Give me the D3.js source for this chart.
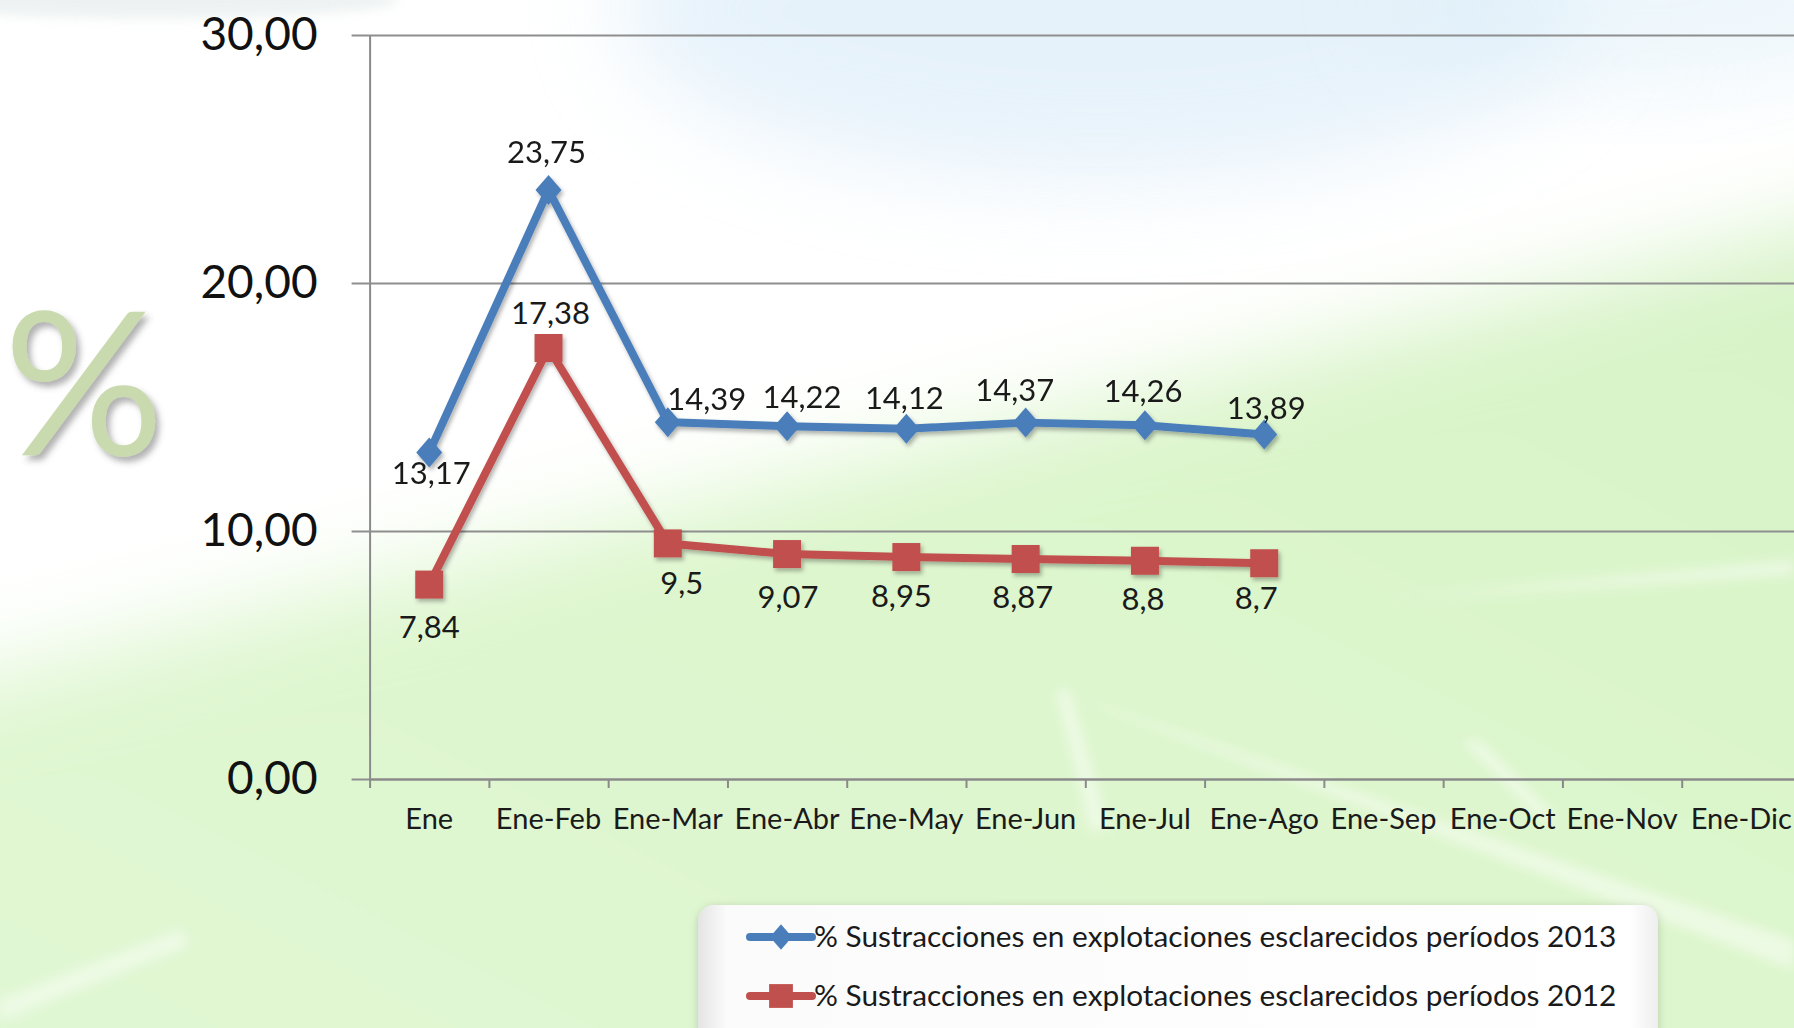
<!DOCTYPE html>
<html>
<head>
<meta charset="utf-8">
<script src="https://cdn.jsdelivr.net/npm/d3@7"></script>
<style>
  html, body { margin: 0; padding: 0; background: #fff; overflow: hidden; }
  svg { display: block; font-family: Lato, "Open Sans", sans-serif; }
</style>
</head>
<body>
<div id="chart"></div>
<script>
const months = ['Ene', 'Ene-Feb', 'Ene-Mar', 'Ene-Abr', 'Ene-May', 'Ene-Jun',
                'Ene-Jul', 'Ene-Ago', 'Ene-Sep', 'Ene-Oct', 'Ene-Nov', 'Ene-Dic'];
const values2013 = [13.17, 23.75, 14.39, 14.22, 14.12, 14.37, 14.26, 13.89];
const values2012 = [7.84, 17.38, 9.5, 9.07, 8.95, 8.87, 8.8, 8.7];
const yTicks = [0, 10, 20, 30];
const seriesNames = [
  '% Sustracciones en explotaciones esclarecidos períodos 2013',
  '% Sustracciones en explotaciones esclarecidos períodos 2012'
];
// label nudges (excel places them by hand)
const labelNudge2013 = [[2, 21], [-2, -38], [39, -23], [15, -29], [-2, -31], [-11, -32], [-2, -34], [2, -26]];
const labelNudge2012 = [[0, 43], [2, -35], [14, 40], [1, 43], [-5, 39], [-3, 38], [-2, 38], [-8, 35]];

const w = 1794, h = 1028;
const plotLeft = 369.6, plotRight = 1801, plotTop = 35, plotBottom = 779;

const svg = d3.select('#chart').append('svg').attr('width', w).attr('height', h);
const defs = svg.append('defs');

// ---- background ----
const gGreen = defs.append('linearGradient').attr('id', 'green').attr('x1', 0).attr('y1', 1).attr('x2', 1).attr('y2', 0);
gGreen.append('stop').attr('offset', 0).attr('stop-color', '#e2f8d6');
gGreen.append('stop').attr('offset', 0.6).attr('stop-color', '#ddf6cd');
gGreen.append('stop').attr('offset', 1).attr('stop-color', '#d6f2c6');
defs.append('filter').attr('id', 'blur60').attr('x', -0.3).attr('y', -0.3).attr('width', 1.6).attr('height', 1.6)
  .append('feGaussianBlur').attr('stdDeviation', 45);
defs.append('filter').attr('id', 'blur8').attr('x', -0.5).attr('y', -0.5).attr('width', 2).attr('height', 2)
  .append('feGaussianBlur').attr('stdDeviation', 6);
const sh = defs.append('filter').attr('id', 'shadow').attr('x', -0.2).attr('y', -0.2).attr('width', 1.4).attr('height', 1.4);
sh.append('feDropShadow').attr('dx', 2).attr('dy', 3).attr('stdDeviation', 2).attr('flood-color', '#000').attr('flood-opacity', 0.3);
const shBig = defs.append('filter').attr('id', 'pctShadow').attr('x', -0.2).attr('y', -0.2).attr('width', 1.4).attr('height', 1.4);
shBig.append('feDropShadow').attr('dx', 4).attr('dy', 5).attr('stdDeviation', 3).attr('flood-color', '#555').attr('flood-opacity', 0.45);
const shLeg = defs.append('filter').attr('id', 'legShadow').attr('x', -0.1).attr('y', -0.2).attr('width', 1.2).attr('height', 1.4);
shLeg.append('feDropShadow').attr('dx', 0).attr('dy', 2).attr('stdDeviation', 4).attr('flood-color', '#000').attr('flood-opacity', 0.18);
const legGrad = defs.append('linearGradient').attr('id', 'legGrad').attr('x1', 0).attr('x2', 1).attr('y1', 0).attr('y2', 0);
legGrad.append('stop').attr('offset', 0).attr('stop-color', '#e4e4e4');
legGrad.append('stop').attr('offset', 0.03).attr('stop-color', '#fbfbfb');
legGrad.append('stop').attr('offset', 0.97).attr('stop-color', '#ffffff');
legGrad.append('stop').attr('offset', 1).attr('stop-color', '#eeeeee');

const bg = svg.append('g');
bg.append('rect').attr('width', w).attr('height', h).attr('fill', '#ffffff');
// blue sky haze at top
bg.append('ellipse').attr('cx', 1100).attr('cy', 10).attr('rx', 480).attr('ry', 170)
  .attr('fill', '#d7eaf8').attr('opacity', 0.6).attr('filter', 'url(#blur60)');
bg.append('ellipse').attr('cx', 1650).attr('cy', 0).attr('rx', 260).attr('ry', 90)
  .attr('fill', '#dceef8').attr('opacity', 0.5).attr('filter', 'url(#blur60)');
bg.append('ellipse').attr('cx', 150).attr('cy', 0).attr('rx', 250).attr('ry', 18)
  .attr('fill', '#e2e9e9').attr('opacity', 0.6).attr('filter', 'url(#blur8)');
// green diagonal field
bg.append('path')
  .attr('d', 'M-200,720 L900,450 L2000,180 L2000,1300 L-200,1300 Z')
  .attr('fill', 'url(#green)').attr('filter', 'url(#blur60)');
// light rays
const rays = [
  'M1055,690 L1070,690 L1110,830 L1090,830 Z',
  'M1460,740 L1480,740 L1560,820 L1540,820 Z',
  'M1080,700 L1100,705 L1794,940 L1794,970 Z',
  'M1380,600 L1794,560 L1794,575 Z',
  'M0,1000 L180,930 L190,945 L0,1020 Z'
];
bg.selectAll('path.ray').data(rays).enter().append('path').attr('class', 'ray')
  .attr('d', d => d).attr('fill', '#ffffff').attr('opacity', 0.45).attr('filter', 'url(#blur8)');

// ---- big % sign ----
svg.append('text').attr('x', 84).attr('y', 455).attr('text-anchor', 'middle')
  .attr('font-size', 200).attr('fill', '#c9daae').attr('filter', 'url(#pctShadow)')
  .text('%');

// ---- scales ----
const xScale = d3.scaleBand().domain(months).range([plotLeft, plotRight]).padding(0);
const xTickScale = d3.scaleLinear().domain([0, months.length]).range([plotLeft, plotRight]);
const yScale = d3.scaleLinear().domain([0, 30]).range([plotBottom, plotTop]);
const fmtLocale = d3.formatLocale({ decimal: ',', thousands: '.', grouping: [3], currency: ['', '€'] });
const tickFmt = fmtLocale.format('.2f');
const cx = d => xScale(d) + xScale.bandwidth() / 2;

// gridlines + y axis
const yAxis = d3.axisLeft(yScale).tickValues(yTicks).tickFormat(tickFmt)
  .tickSizeInner(-(w - plotLeft)).tickSizeOuter(0).tickPadding(52);
const gy = svg.append('g').attr('transform', `translate(${plotLeft},0)`).call(yAxis);
gy.select('.domain').attr('stroke', '#8a8a8a').attr('stroke-width', 2);
gy.selectAll('.tick line').attr('stroke', '#8e8e8e').attr('stroke-width', 2).attr('x1', -18);
gy.selectAll('.tick text').attr('font-size', 46).attr('fill', '#111').attr('font-family', 'Lato, sans-serif');

// x axis
const xAxis = d3.axisBottom(xTickScale).tickValues(d3.range(0, months.length + 1))
  .tickFormat('').tickSizeInner(9).tickSizeOuter(0);
const gx = svg.append('g').attr('transform', `translate(0,${plotBottom})`).call(xAxis);
gx.select('.domain').attr('stroke', '#8a8a8a').attr('stroke-width', 2);
gx.selectAll('.tick line').attr('stroke', '#8a8a8a').attr('stroke-width', 2);
svg.append('g').selectAll('text').data(months).enter().append('text')
  .attr('x', d => cx(d)).attr('y', plotBottom + 50).attr('text-anchor', 'middle')
  .attr('font-size', 29).attr('fill', '#1a1a1a').text(d => d);

// ---- series ----
const line = d3.line().x((d, i) => cx(months[i])).y(d => yScale(d));
const diamond = 'M0,-15 L13,0 L0,15 L-13,0 Z';
const square = 'M-14,-14 L14,-14 L14,14 L-14,14 Z';

function drawSeries(vals, color, marker, nudge) {
  const g = svg.append('g').attr('filter', 'url(#shadow)');
  g.append('path').datum(vals).attr('d', line).attr('fill', 'none')
    .attr('stroke', color).attr('stroke-width', 8).attr('stroke-linejoin', 'round');
  g.selectAll('path.m').data(vals).enter().append('path').attr('class', 'm')
    .attr('d', marker).attr('fill', color)
    .attr('transform', (d, i) => `translate(${cx(months[i])},${yScale(d)})`);
  svg.append('g').selectAll('text').data(vals).enter().append('text')
    .attr('x', (d, i) => cx(months[i]) + nudge[i][0])
    .attr('y', (d, i) => yScale(d) + nudge[i][1])
    .attr('dy', '0.35em').attr('text-anchor', 'middle')
    .attr('font-size', 31).attr('fill', '#1a1a1a')
    .text(d => String(d).replace('.', ','));
}
drawSeries(values2012, '#c0504d', square, labelNudge2012);
drawSeries(values2013, '#4a7ebb', diamond, labelNudge2013);

// ---- legend ----
const leg = svg.append('g');
leg.append('rect').attr('x', 698).attr('y', 905).attr('width', 960).attr('height', 140).attr('rx', 16)
  .attr('fill', 'url(#legGrad)').attr('filter', 'url(#legShadow)');
const legendItems = [
  { name: seriesNames[0], color: '#4a7ebb', marker: diamond },
  { name: seriesNames[1], color: '#c0504d', marker: square }
];
const rows = leg.selectAll('g.row').data(legendItems).enter().append('g').attr('class', 'row')
  .attr('transform', (d, i) => `translate(0,${937 + i * 59})`);
rows.append('line').attr('x1', 750).attr('x2', 812).attr('y1', 0).attr('y2', 0)
  .attr('stroke', d => d.color).attr('stroke-width', 8).attr('stroke-linecap', 'round');
rows.append('path').attr('d', d => d.marker).attr('fill', d => d.color)
  .attr('transform', 'translate(781,0) scale(0.85)');
rows.append('text').attr('x', 814).attr('y', 0).attr('dy', '0.35em')
  .attr('font-size', 29.8).attr('fill', '#1a1a1a').text(d => d.name);
</script>
</body>
</html>
